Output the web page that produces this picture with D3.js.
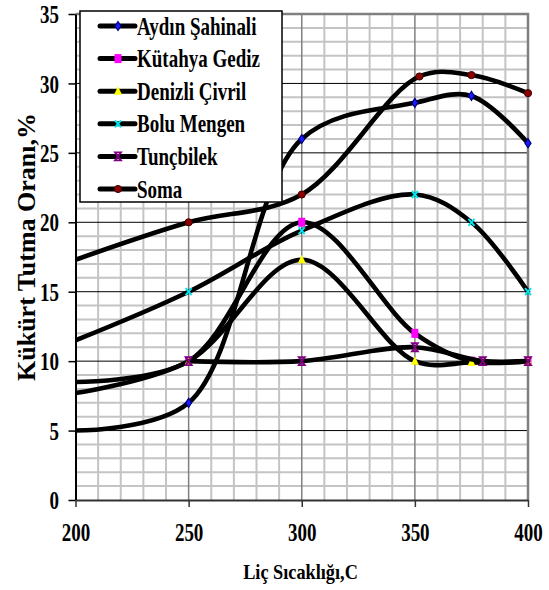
<!DOCTYPE html>
<html>
<head>
<meta charset="utf-8">
<script src="https://cdn.jsdelivr.net/npm/d3@7"></script>
<style>
  html, body { margin: 0; padding: 0; background: #fff; }
  svg { display: block; }
  svg text { font-family: "Liberation Serif", "Times New Roman", Times, "DejaVu Serif", serif !important; font-weight: bold; fill: #000; }
</style>
</head>
<body>
<script>
// ---- data ----
const seriesNames = ["Aydın Şahinali", "Kütahya Gediz", "Denizli Çivril", "Bolu Mengen", "Tunçbilek", "Soma"];
const aydinX   = [200, 250, 300, 350, 375, 400];
const aydinY   = [5, 7, 26, 28.6, 29.1, 25.7];
const kutahyaX = [200, 250, 300, 350, 375, 400];
const kutahyaY = [8.5, 10, 20, 12, 10, 10];
const denizliX = [200, 250, 300, 350, 375, 400];
const denizliY = [7.7, 10, 17.3, 10, 9.9, 10];
const boluX    = [200, 250, 300, 350, 375, 400];
const boluY    = [11.5, 15, 19.4, 22, 20, 15];
const tuncX    = [250, 300, 350, 380, 400];
const tuncY    = [10, 10, 11, 10, 10];
const somaX    = [200, 250, 300, 352, 375, 400];
const somaY    = [17.3, 20, 22, 30.5, 30.6, 29.3];
const xTicks = [200, 250, 300, 350, 400];
const yTicks = [0, 5, 10, 15, 20, 25, 30, 35];
const xTitle = "Liç Sıcaklığı,C";
const yTitle = "Kükürt Tutma Oranı,%";

const seriesX = [aydinX, kutahyaX, denizliX, boluX, tuncX, somaX];
const seriesY = [aydinY, kutahyaY, denizliY, boluY, tuncY, somaY];
const markerTypes = ["diamond", "square", "triangle", "cross", "hourglass", "circle"];

const FONT = "'Liberation Serif', 'Times New Roman', Times, 'DejaVu Serif', serif";
const W = 549, H = 590;
const L = 75.5, R = 528, T = 14, B = 500;

const svg = d3.select("body").append("svg").attr("width", W).attr("height", H)
  .attr("font-family", FONT);

const x = d3.scaleLinear().domain([200, 400]).range([L, R]);
const y = d3.scaleLinear().domain([0, 35]).range([B, T]);

// ---- grid ----
const grid = svg.append("g");
grid.selectAll(".vmin").data(d3.range(210, 400, 10).filter(v => v % 50 !== 0)).join("line")
  .attr("x1", d => x(d)).attr("x2", d => x(d)).attr("y1", T).attr("y2", B)
  .attr("stroke", "#c4c4c4").attr("stroke-width", 2);
grid.selectAll(".hmin").data(d3.range(1, 35, 1).filter(v => v % 5 !== 0)).join("line")
  .attr("x1", L).attr("x2", R).attr("y1", d => y(d)).attr("y2", d => y(d))
  .attr("stroke", "#c4c4c4").attr("stroke-width", 2);
grid.selectAll(".vmaj").data([250, 300, 350]).join("line")
  .attr("x1", d => x(d)).attr("x2", d => x(d)).attr("y1", T).attr("y2", B)
  .attr("stroke", "#808080").attr("stroke-width", 1.5);
grid.selectAll(".hmaj").data([5, 10, 15, 20, 25, 30]).join("line")
  .attr("x1", L).attr("x2", R).attr("y1", d => y(d)).attr("y2", d => y(d))
  .attr("stroke", "#000").attr("stroke-width", 1);
grid.append("path")
  .attr("d", `M${L},${y(35)}H${x(400)}V${B}`)
  .attr("fill", "none").attr("stroke", "#808080").attr("stroke-width", 2.5);

// ---- axes ----
const SXT = 0.73;
const yAxis = svg.append("g").attr("transform", `translate(${L},0)`)
  .call(d3.axisLeft(y).tickValues(yTicks).tickSize(7).tickSizeOuter(0).tickFormat(d3.format("d")));
yAxis.attr("font-family", FONT);
yAxis.select(".domain").attr("stroke", "#000").attr("stroke-width", 2);
yAxis.selectAll(".tick line").attr("stroke", "#000").attr("stroke-width", 1.5);
yAxis.selectAll(".tick text")
  .attr("font-size", 26).attr("font-family", FONT).attr("font-weight", "bold")
  .attr("x", -(L - 59) / SXT).attr("dy", "0.33em")
  .attr("transform", `scale(${SXT},1)`);

const xAxis = svg.append("g").attr("transform", `translate(0,${B})`)
  .call(d3.axisBottom(x).tickValues(xTicks).tickSize(7).tickSizeOuter(0).tickFormat(d3.format("d")));
xAxis.attr("font-family", FONT);
xAxis.select(".domain").attr("stroke", "#333").attr("stroke-width", 2);
xAxis.selectAll(".tick line").attr("stroke", "#333").attr("stroke-width", 1.5);
xAxis.selectAll(".tick text")
  .attr("font-size", 26).attr("font-family", FONT).attr("font-weight", "bold")
  .attr("y", 41).attr("dy", 0).attr("x", 0)
  .attr("transform", `scale(${SXT},1)`);

// ---- markers ----
function drawMarker(g, type, cx, cy) {
  const m = g.append("g").attr("transform", `translate(${cx},${cy})`);
  if (type === "diamond") {
    m.append("path").attr("d", "M0,-4.5L3,0L0,4.5L-3,0Z").attr("fill", "#1a1aff").attr("stroke", "#000080").attr("stroke-width", 1.2);
  } else if (type === "square") {
    m.append("rect").attr("x", -3.5).attr("y", -4.5).attr("width", 7).attr("height", 9).attr("fill", "#ff00ff");
  } else if (type === "triangle") {
    m.append("path").attr("d", "M0,-5L4,3.5L-4,3.5Z").attr("fill", "#ffff00");
  } else if (type === "cross") {
    m.append("path").attr("d", "M-3,-3.5L3,3.5M3,-3.5L-3,3.5").attr("stroke", "#00e5ee").attr("stroke-width", 2).attr("fill", "none");
  } else if (type === "hourglass") {
    m.append("path").attr("d", "M-3,-4H3L-3,4H3Z").attr("stroke", "#800080").attr("stroke-width", 1.8).attr("fill", "none");
  } else if (type === "circle") {
    m.append("circle").attr("r", 3.6).attr("fill", "#8b0000").attr("stroke", "#400000").attr("stroke-width", 1);
  }
}

// ---- series ----
const clipId = "plotclip";
svg.append("clipPath").attr("id", clipId).append("rect").attr("x", L).attr("y", T - 10).attr("width", R - L + 10).attr("height", B - T + 10);
const lineGen = d3.line().x(d => x(d[0])).y(d => y(d[1])).curve(d3.curveCatmullRom.alpha(0.5));
const series = svg.append("g");
seriesNames.forEach((name, i) => {
  const pts = seriesX[i].map((xv, j) => [xv, seriesY[i][j]]);
  const sg = series.append("g");
  sg.append("path").datum(pts).attr("d", lineGen)
    .attr("fill", "none").attr("stroke", "#000").attr("stroke-width", 4.6)
    .attr("stroke-linecap", "round").attr("stroke-linejoin", "round")
    .attr("clip-path", `url(#${clipId})`);
  pts.filter(p => p[0] > 200).forEach(p => drawMarker(sg, markerTypes[i], x(p[0]), y(p[1])));
});

// ---- legend ----
const leg = svg.append("g");
leg.append("rect").attr("x", 80).attr("y", 11).attr("width", 202).attr("height", 191)
  .attr("fill", "#fff").attr("stroke", "#000").attr("stroke-width", 1.5);
seriesNames.forEach((name, i) => {
  const ry = 26 + i * 32.6;
  leg.append("line").attr("x1", 100).attr("x2", 135).attr("y1", ry).attr("y2", ry)
    .attr("stroke", "#000").attr("stroke-width", 5).attr("stroke-linecap", "round");
  drawMarker(leg, markerTypes[i], 118, ry);
  leg.append("text").attr("transform", `translate(137,${ry + 8.5}) scale(0.76,1)`)
    .attr("font-size", 25).attr("font-weight", "bold").text(name);
});

// ---- titles ----
svg.append("text").attr("transform", `translate(35,247) rotate(-90)`)
  .attr("text-anchor", "middle").attr("font-size", 26).attr("font-weight", "bold").text(yTitle);
svg.append("text").attr("transform", `translate(300.5,579) scale(0.87,1)`)
  .attr("text-anchor", "middle").attr("font-size", 21).attr("font-weight", "bold").text(xTitle);
</script>
</body>
</html>
